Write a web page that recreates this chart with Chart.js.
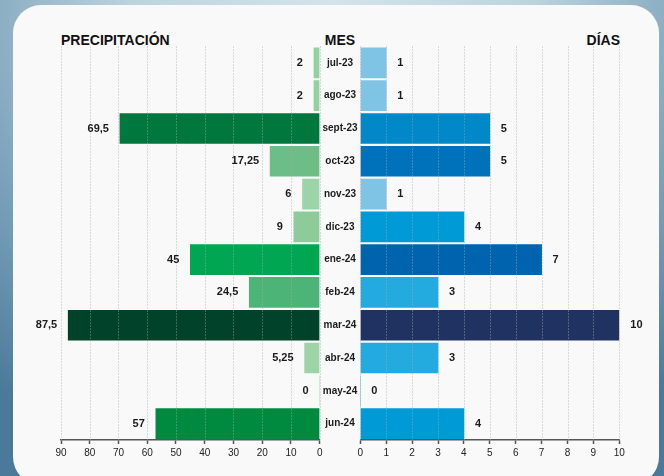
<!DOCTYPE html>
<html>
<head>
<meta charset="utf-8">
<script src="https://cdn.jsdelivr.net/npm/chart.js@4"></script>
<style>
html, body { margin: 0; padding: 0; }
body {
    width: 664px; height: 476px; overflow: hidden; position: relative;
    background: radial-gradient(ellipse 80% 105% at 50% 0%, #d3e4ea 0%, #bcd3de 38%, #7aa1b9 72%, #4a7999 100%);
    font-family: "Liberation Sans", Arial, sans-serif;
}
#panel {
    position: absolute; left: 13px; top: 5px; width: 646px; height: 480px;
    background: #f9f9f9; border-radius: 28px;
}
.ttl { position: absolute; top: 32px; font-size: 14px; font-weight: bold; line-height: 16px; color: #111; }
.box { position: absolute; top: 0; height: 476px; }
</style>
</head>
<body>
<div id="panel"></div>
<div class="ttl" style="left:61px">PRECIPITACIÓN</div>
<div class="ttl" style="left:300px;width:80px;text-align:center">MES</div>
<div class="ttl" style="right:44px">DÍAS</div>
<div class="box" style="left:0;width:380px"><canvas id="leftChart"></canvas></div>
<div class="box" style="left:340px;width:324px"><canvas id="rightChart"></canvas></div>
<script>
const ctxLeft = document.getElementById('leftChart');
const ctxRight = document.getElementById('rightChart');

// data
const months = ['jul-23', 'ago-23', 'sept-23', 'oct-23', 'nov-23', 'dic-23', 'ene-24', 'feb-24', 'mar-24', 'abr-24', 'may-24', 'jun-24'];
const precipitacion = [2, 2, 69.5, 17.25, 6, 9, 45, 24.5, 87.5, 5.25, 0, 57];
const dias = [1, 1, 5, 5, 1, 4, 7, 3, 10, 3, 0, 4];

const greenColors = ['#95d0a0', '#95d0a0', '#00773c', '#6cbd86', '#9dd4a7', '#8fcb9a', '#00a651', '#4db477', '#00432a', '#9dd4a7', '#9dd4a7', '#008a40'];
const blueColors = ['#7fc4e4', '#7fc4e4', '#0088c8', '#0072bb', '#7fc4e4', '#009bd7', '#0063ad', '#23aade', '#1f3261', '#23aade', '#23aade', '#009bd7'];

Chart.defaults.font.family = '"Liberation Sans", Arial, sans-serif';
Chart.defaults.color = '#222';

const fmt = v => String(v).replace('.', ',');

// dotted grid over the bars, value labels beside each bar, month names in the middle
const valueLabels = {
    id: 'valueLabels',
    afterDatasetsDraw(chart, args, opts) {
        const c = chart.ctx;
        const area = chart.chartArea;
        const xs = chart.scales.x;
        const meta = chart.getDatasetMeta(0);
        const data = chart.data.datasets[0].data;
        c.save();
        c.strokeStyle = 'rgba(170,170,170,0.8)';
        c.lineWidth = 1;
        c.setLineDash([1, 2]);
        xs.ticks.forEach(t => {
            const x = Math.round(xs.getPixelForValue(t.value)) + 0.5;
            c.beginPath();
            c.moveTo(x, area.top);
            c.lineTo(x, area.bottom);
            c.stroke();
        });
        c.setLineDash([]);

        c.font = 'bold 11px "Liberation Sans", Arial, sans-serif';
        c.fillStyle = '#1a1a1a';
        c.textBaseline = 'middle';
        meta.data.forEach((bar, i) => {
            if (opts.side == 'left') {
                c.textAlign = 'right';
                c.fillText(fmt(data[i]), bar.x - 11, bar.y);
            } else {
                c.textAlign = 'left';
                c.fillText(fmt(data[i]), bar.x + 11, bar.y);
            }
        });
        if (opts.side == 'left') {
            c.font = 'bold 10px "Liberation Sans", Arial, sans-serif';
            c.textAlign = 'center';
            const yScale = chart.scales.y;
            chart.data.labels.forEach((m, i) => {
                c.fillText(m, area.right + 20.3, yScale.getPixelForValue(i));
            });
        }
        c.restore();
    }
};

function xScale(max, step, reverse) {
    return {
        min: 0,
        max: max,
        reverse: reverse,
        ticks: {
            stepSize: step,
            autoSkip: false,
            maxRotation: 0,
            padding: 3,
            color: '#222',
            font: { size: 10 }
        },
        grid: {
            drawOnChartArea: false,
            tickLength: 4,
            tickColor: '#555',
            tickWidth: 1.5
        },
        border: { display: true, color: '#555', width: 1.5 },
        afterFit: scale => { scale.height = 36; }
    };
}

function makeChart(el, values, colors, max, step, reverse, pad, side) {
    return new Chart(el, {
        type: 'bar',
        data: {
            labels: months,
            datasets: [{
                data: values,
                backgroundColor: colors,
                borderWidth: 0,
                barThickness: 30,
                categoryPercentage: 1
            }]
        },
        options: {
            indexAxis: 'y',
            responsive: true,
            maintainAspectRatio: false,
            animation: false,
            layout: { padding: pad },
            plugins: {
                legend: { display: false },
                tooltip: { enabled: false },
                valueLabels: { side: side }
            },
            scales: {
                x: xScale(max, step, reverse),
                y: { display: false }
            }
        },
        plugins: [valueLabels]
    });
}

const leftChart = makeChart(ctxLeft, precipitacion, greenColors, 90, 10, true,
    { left: 61, right: 60.3, top: 46.5, bottom: 0 }, 'left');
const rightChart = makeChart(ctxRight, dias, blueColors, 10, 1, false,
    { left: 20.3, right: 44.7, top: 46.5, bottom: 0 }, 'right');
</script>
</body>
</html>
